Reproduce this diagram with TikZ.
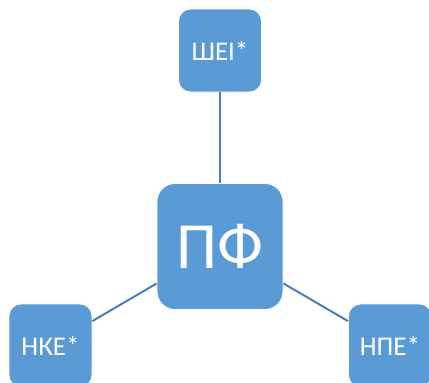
\documentclass[tikz,border=0pt]{standalone}
\usepackage{fontspec}
\setmainfont{Carlito}
\definecolor{boxblue}{HTML}{5B9BD5}
\definecolor{linkblue}{HTML}{4A7EBB}
\begin{document}
\begin{tikzpicture}[x=1pt,y=-1pt,
  smallbox/.style={draw=white,line width=0.8pt,fill=boxblue,rounded corners=12pt,minimum width=83pt,minimum height=83pt,inner sep=0pt,text=white,font=\fontsize{27}{30}\selectfont},
  bigbox/.style={draw=white,line width=0.8pt,fill=boxblue,rounded corners=18pt,minimum width=126pt,minimum height=126pt,inner sep=0pt,text=white,font=\fontsize{66}{70}\selectfont},
  link/.style={draw=linkblue,line width=2pt}]
\useasboundingbox (0,0) rectangle (429,383);
\node[bigbox] (pf) at (220,246.5) {ПФ};
\node[smallbox] (top) at (220,50.5) {ШЕІ*};
\node[smallbox] (left) at (50.5,345.5) {НКЕ*};
\node[smallbox] (right) at (390,345.5) {НПЕ*};
\draw[link] (pf) -- (top);
\draw[link] (pf) -- (left);
\draw[link] (pf) -- (right);
\end{tikzpicture}
\end{document}
